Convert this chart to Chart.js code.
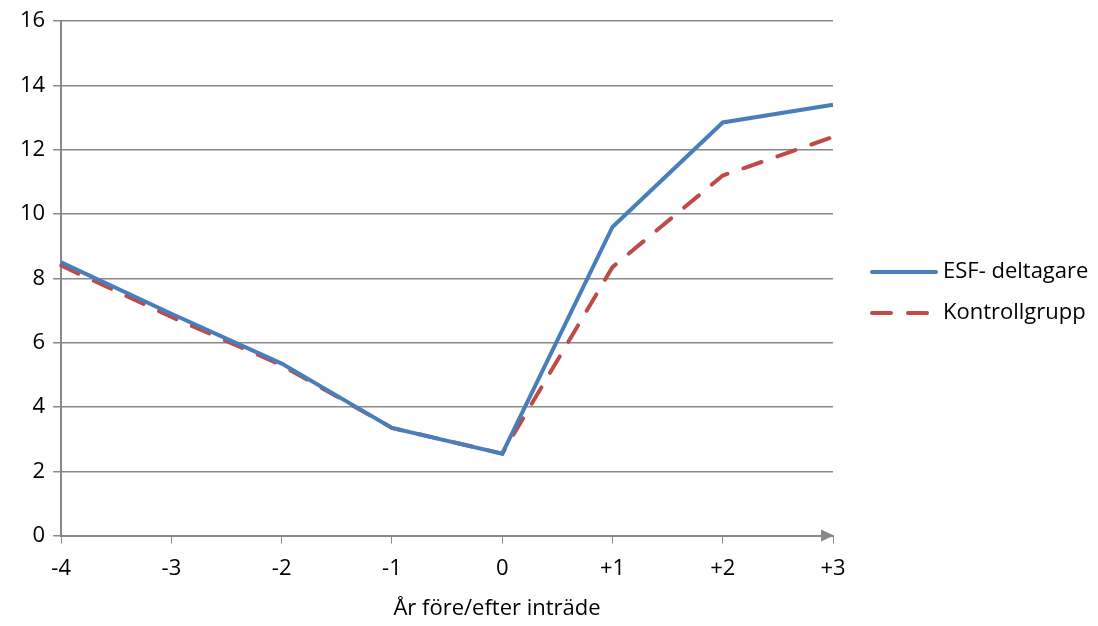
<!DOCTYPE html>
<html>
<head>
<meta charset="utf-8">
<script src="https://cdn.jsdelivr.net/npm/chart.js@4"></script>
<style>
  html, body { margin: 0; padding: 0; background: #fff; }
  #wrap { width: 1098px; height: 626px; position: relative; }
</style>
</head>
<body>
<div id="wrap"><canvas id="chart"></canvas></div>
<script>
const years = ["-4", "-3", "-2", "-1", "0", "+1", "+2", "+3"];
const esf = [8.5, 6.9, 5.35, 3.35, 2.55, 9.6, 12.85, 13.4];
const kontroll = [8.4, 6.8, 5.3, 3.35, 2.55, 8.35, 11.2, 12.4];
const seriesNames = ["ESF- deltagare", "Kontrollgrupp"];
const xTitle = "År före/efter inträde";

const font = "'Open Sans', sans-serif";
const fontSize = 22;

// arrow at the end of x axis, axis title and legend on the right
const extras = {
  id: "extras",
  afterDraw(chart) {
    const ctx = chart.ctx;
    const xs = chart.scales.x;
    const ys = chart.scales.y;
    const xEnd = xs.right;
    const y0 = ys.getPixelForValue(0);
    ctx.save();
    ctx.fillStyle = "#888";
    ctx.beginPath();
    ctx.moveTo(xEnd + 1, y0);
    ctx.lineTo(xEnd - 12, y0 - 6);
    ctx.lineTo(xEnd - 12, y0 + 6);
    ctx.closePath();
    ctx.fill();

    ctx.fillStyle = "#000";
    ctx.font = fontSize + "px " + font;
    ctx.textBaseline = "middle";
    ctx.textAlign = "center";
    ctx.fillText(xTitle, 497, 609);

    // legend
    ctx.textAlign = "left";
    const lx = 872, tx = 943;
    const rows = [272, 313];
    chart.data.datasets.forEach((ds, i) => {
      ctx.strokeStyle = ds.borderColor;
      ctx.lineWidth = 4;
      ctx.lineCap = "round";
      ctx.setLineDash(ds.borderDash || []);
      ctx.beginPath();
      ctx.moveTo(lx, rows[i]);
      ctx.lineTo(lx + 64, rows[i]);
      ctx.stroke();
      ctx.setLineDash([]);
      ctx.fillStyle = "#000";
      ctx.fillText(ds.label, tx, rows[i]);
    });
    ctx.restore();
  }
};

new Chart(document.getElementById("chart"), {
  type: "line",
  data: {
    labels: years,
    datasets: [
      {
        label: seriesNames[0],
        data: esf,
        borderColor: "#4a7ebb",
        borderWidth: 4,
        pointRadius: 0,
        tension: 0,
        borderJoinStyle: "miter"
      },
      {
        label: seriesNames[1],
        data: kontroll,
        borderColor: "#be4b48",
        borderWidth: 4,
        borderDash: [19, 17],
        borderCapStyle: "round",
        pointRadius: 0,
        tension: 0
      }
    ]
  },
  options: {
    responsive: true,
    maintainAspectRatio: false,
    animation: false,
    layout: { padding: { left: 12, right: 265, top: 8, bottom: 32 } },
    plugins: {
      legend: { display: false },
      tooltip: { enabled: false }
    },
    scales: {
      x: {
        offset: false,
        grid: {
          drawOnChartArea: false,
          drawTicks: true,
          tickLength: 8,
          color: "#888",
          lineWidth: 1
        },
        border: { color: "#888", width: 2 },
        ticks: {
          color: "#000",
          font: { family: font, size: fontSize },
          padding: 12,
          maxRotation: 0
        }
      },
      y: {
        min: 0,
        max: 16,
        grid: {
          color: "#888",
          lineWidth: 1.5,
          drawTicks: true,
          tickLength: 8
        },
        border: { color: "#888", width: 2 },
        ticks: {
          stepSize: 2,
          color: "#000",
          font: { family: font, size: fontSize },
          padding: 8
        }
      }
    }
  },
  plugins: [extras]
});
</script>
</body>
</html>
